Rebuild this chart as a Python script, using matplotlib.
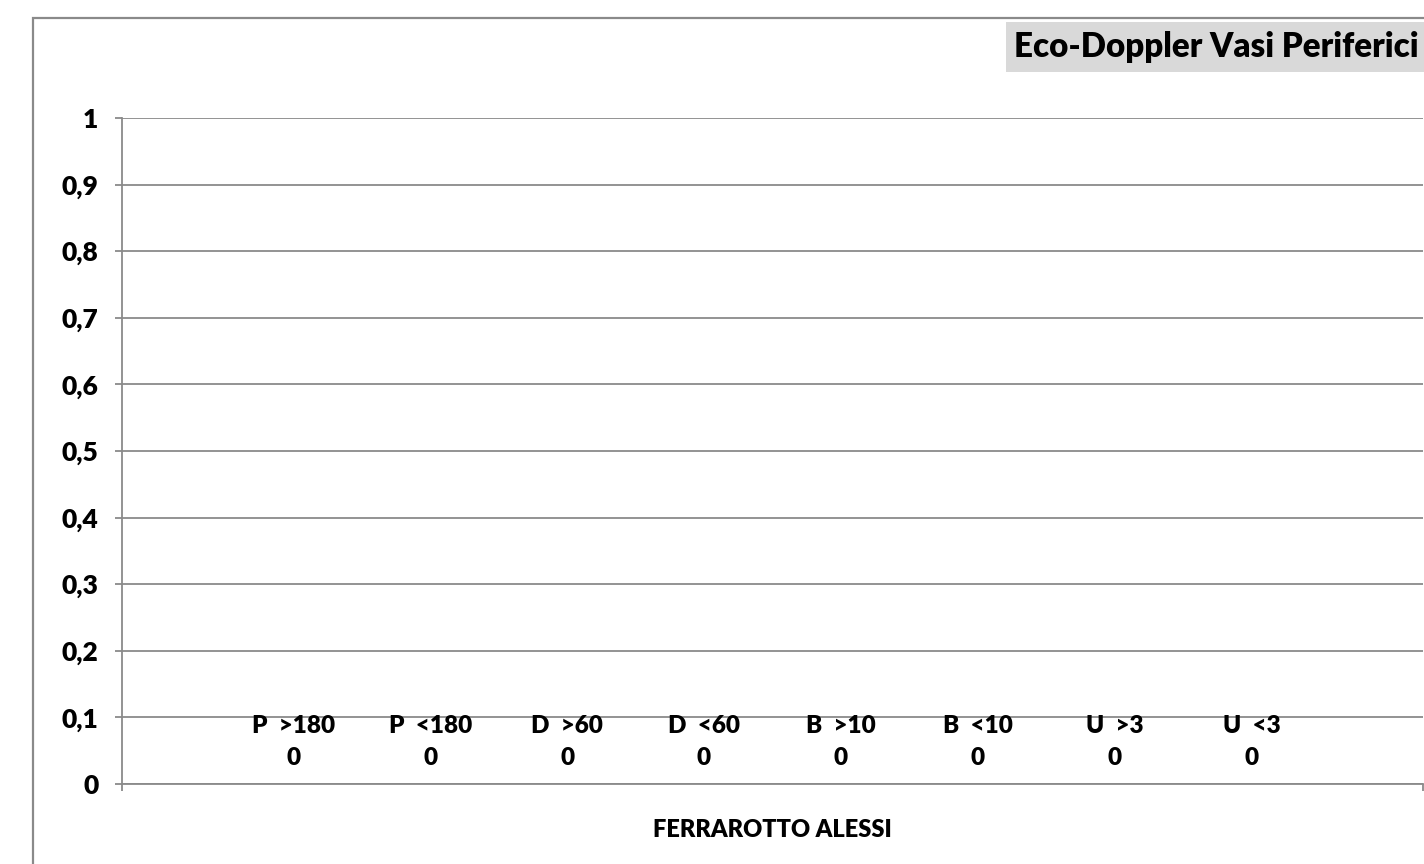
import matplotlib.pyplot as plt
from matplotlib.patches import Rectangle
from matplotlib.ticker import FuncFormatter

# data
patient = "FERRAROTTO ALESSI"
series = ["P  >180", "P  <180", "D  >60", "D  <60", "B  >10", "B  <10", "U  >3", "U  <3"]
values = [0, 0, 0, 0, 0, 0, 0, 0]
title = "Eco-Doppler Vasi Periferici"

W, H = 1424, 864
GREY = "#8a8a8a"

plt.rcParams["font.family"] = ["Lato", "DejaVu Sans"]
plt.rcParams["font.weight"] = "heavy"

fig = plt.figure(figsize=(W / 100, H / 100), dpi=100)

# outer chart frame (cropped on right and bottom)
fig.patches.append(Rectangle((33 / W, -0.2), 1.5, 1.2 - 18 / H, transform=fig.transFigure,
                             fill=False, edgecolor=GREY, linewidth=1.6, clip_on=False))

# title box
fig.patches.append(Rectangle((1006 / W, 1 - 72 / H), 0.5, 50 / H, transform=fig.transFigure,
                             facecolor="#d9d9d9", edgecolor="none"))
fig.text(1419 / W, 1 - 47 / H, title, ha="right", va="center", fontsize=23.8)

ax = fig.add_axes([122 / W, 80 / H, 1301 / W, 666 / H])

n = len(series)
gap = 1.5
w = 1 / (n + gap)
xs = [0.5 - n * w / 2 + (i + 0.5) * w for i in range(n)]
ax.bar(xs, values, width=w, color="#4f81bd")

for x, name, v in zip(xs, series, values):
    ax.annotate(f"{name}\n{v}", (x, v), xytext=(0, 11), textcoords="offset points",
                ha="center", va="bottom", fontsize=17.5, linespacing=1.55)

ax.set_xlim(0, 1)
ax.set_ylim(0, 1)
ax.set_yticks([i / 10 for i in range(11)])
ax.yaxis.set_major_formatter(FuncFormatter(lambda v, p: f"{v:g}".replace(".", ",")))
ax.grid(axis="y", color=GREY, linewidth=1.3)
ax.set_axisbelow(True)

ax.set_xticks([0.5])
ax.set_xticklabels([patient])
ax.set_xticks([0, 1], minor=True)
ax.tick_params(axis="x", which="major", length=0, pad=25, labelsize=17)
ax.tick_params(axis="x", which="minor", length=5, color=GREY, width=1.3)
ax.tick_params(axis="y", length=5, color=GREY, width=1.3, labelsize=19, pad=12)

for s in ["top", "right"]:
    ax.spines[s].set_visible(False)
for s in ["left", "bottom"]:
    ax.spines[s].set_color(GREY)
    ax.spines[s].set_linewidth(1.3)

fig.savefig("out.png", dpi=100)
